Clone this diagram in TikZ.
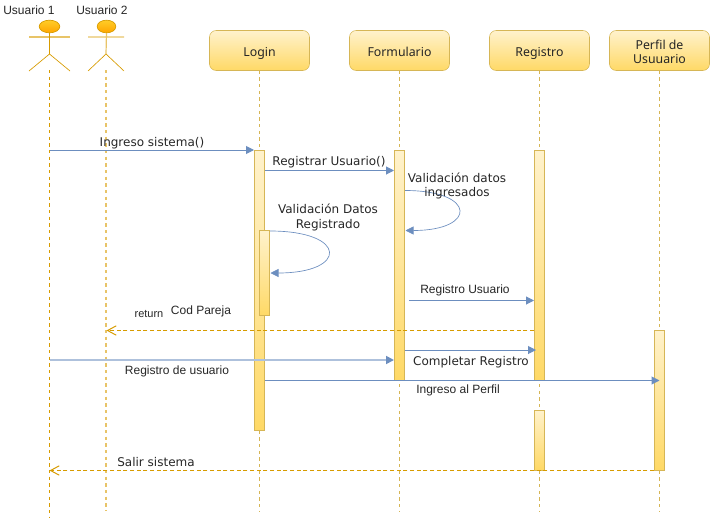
\documentclass[tikz,border=0pt]{standalone}
\usepackage{fontspec}
\setmainfont{Noto Sans}
\newfontfamily\arialfont{Liberation Sans}
\newfontfamily\dejafont{DejaVu Sans}
\usetikzlibrary{arrows.meta,shapes.geometric}
\definecolor{boxtop}{HTML}{FFF2CC}
\definecolor{boxbot}{HTML}{FFD966}
\definecolor{boxline}{HTML}{D6B656}
\definecolor{headtop}{HTML}{FFCD28}
\definecolor{headbot}{HTML}{FFA500}
\definecolor{orangeline}{HTML}{D79B00}
\definecolor{paleline}{HTML}{E8C468}
\definecolor{msgblue}{HTML}{6C8EBF}
\tikzset{
  lifebox/.style={draw=boxline, top color=boxtop, bottom color=boxbot, rounded corners=5pt,
    minimum width=75pt, minimum height=30pt, inner sep=0pt, align=center, font=\fontsize{9.25}{10.5}\selectfont, text=black!85},
  bar/.style={draw=boxline, line width=0.75pt, top color=boxtop, bottom color=boxbot, minimum width=7.5pt, inner sep=0pt},
  head/.style={ellipse, draw=orangeline, line width=0.5pt, top color=headtop, bottom color=headbot, inner sep=0pt},
  lifeline/.style={draw=boxline, line width=0.6pt, dash pattern=on 2.5pt off 2.5pt},
  msg/.style={draw=msgblue, line width=0.75pt, -{Triangle[length=6pt,width=6pt,fill=msgblue]}},
  back/.style={draw=orangeline, line width=0.75pt, dash pattern=on 3pt off 2pt, -{Straight Barb[length=6.5pt,width=7pt]}},
  lab/.style={inner sep=0pt, align=center, font=\dejafont\fontsize{9}{10.8}\selectfont, text=black!85},
  arial/.style={inner sep=0pt, align=center, font=\arialfont\fontsize{9}{11}\selectfont, text=black!85}
}
\begin{document}
\begin{tikzpicture}[x=0.75pt, y=-0.75pt]
  \useasboundingbox (0,0) rectangle (710,521);
  % actors
  \node [arial] (user1label) at (29,10.5) {Usuario 1};
  \node [arial] (user2label) at (102,10.5) {Usuario 2};
  \node [head, minimum width=15.5pt, minimum height=9.5pt] (user1) at (49.5,26.5) {};
  \node [head, minimum width=14pt, minimum height=9.5pt] (user2) at (106.5,26.5) {};
  \draw [paleline, line width=0.9pt] (29,37) -- (70,37);
  \draw [orangeline, line width=0.5pt] (user1.south) -- (49.5,54)
    (29,71) -- (49.5,54) -- (70,71);
  \draw [paleline, line width=0.9pt] (88,37) -- (124,37) (user2.south) -- (106,54);
  \draw [orangeline, line width=0.5pt] (88,71) -- (106,54) -- (124,71);
  % boxes
  \node [lifebox, text height=10pt, text depth=1pt] (login) at (259.5,50.5) {Login};
  \node [lifebox, text height=10pt, text depth=1pt] (form) at (399.5,50.5) {Formulario};
  \node [lifebox, text height=10pt, text depth=1pt] (reg) at (539.5,50.5) {Registro};
  \node [lifebox, text height=20pt, text depth=0pt] (perfil) at (659.5,50.5) {Perfil de\\Usuuario};
  % lifelines
  \coordinate (user1end) at (49.5,517);
  \coordinate (user2end) at (106,511);
  \draw [orangeline, line width=0.5pt, dash pattern=on 2.5pt off 2.5pt] (49.5,70) -- (user1end);
  \draw [paleline, line width=1pt, dash pattern=on 2.5pt off 2.5pt] (106,70) -- (user2end);
  \foreach \who in {login, form, reg, perfil}
    \draw [lifeline] (\who.south) -- (\who |- user2end);
  % activation bars
  \node [bar, minimum height=210pt] (loginbar) at (259.5,290.5) {};
  \node [bar, minimum height=63.75pt] (checkbar) at (264.5,273) {};
  \node [bar, minimum height=172.5pt] (formbar) at (399.5,265.5) {};
  \node [bar, minimum height=172.5pt] (regbar) at (539.5,265.5) {};
  \node [bar, minimum height=45pt] (regbartwo) at (539.5,440) {};
  \node [bar, minimum height=105pt] (perfilbar) at (659.5,400) {};
  % messages
  \draw [msg] (user1 |- loginbar.north) -- (loginbar.north west);
  \draw [msg] (loginbar.east |- 0,170.5) -- (formbar.west |- 0,170.5);
  \draw [msg, line width=0.5pt] (formbar.east |- 0,190.5) .. controls (477,190.5) and (477,230.5) .. (405.5,230.5);
  \draw [msg, line width=0.5pt] (checkbar.east |- 0,231) .. controls (348,231) and (348,273) .. (270.5,273);
  \draw [msg] (409,300.5) -- (regbar.west |- 0,300.5);
  \draw [back] (regbar.west |- 0,330.5) -- (user2 |- 0,330.5);
  \draw [msg, draw=msgblue!55, line width=1.3pt, -{Triangle[length=6pt,width=6pt,color=msgblue,fill=msgblue]}] (user1 |- 0,360) -- (formbar.west |- 0,360);
  \draw [msg] (404.5,350) -- (536,350);
  \draw [msg] (loginbar.east |- 0,380.5) -- (perfilbar.center |- 0,380.5);
  \draw [back] (perfilbar.south west) -- (user1 |- perfilbar.south);
  % labels
  \node [lab] (ingreso) at (152,143) {Ingreso sistema()};
  \node [lab] (registrar) at (329,162.5) {Registrar Usuario()};
  \node [lab] (valform) at (457,186) {Validación datos\\ingresados};
  \node [lab] (vallogin) at (328,217.5) {Validación Datos\\Registrado};
  \node [arial] (regusuario) at (465,290.5) {Registro Usuario};
  \node [arial, font=\arialfont\fontsize{8.25}{10}\selectfont] (ret) at (149,314) {return};
  \node [arial] (pareja) at (201,311) {Cod Pareja};
  \node [arial] (regde) at (177,371) {Registro de usuario};
  \node [lab] (completar) at (471,362.5) {Completar Registro};
  \node [arial] (alperfil) at (458,390.5) {Ingreso al Perfil};
  \node [lab] (salir) at (156,462.5) {Salir sistema};
\end{tikzpicture}
\end{document}
